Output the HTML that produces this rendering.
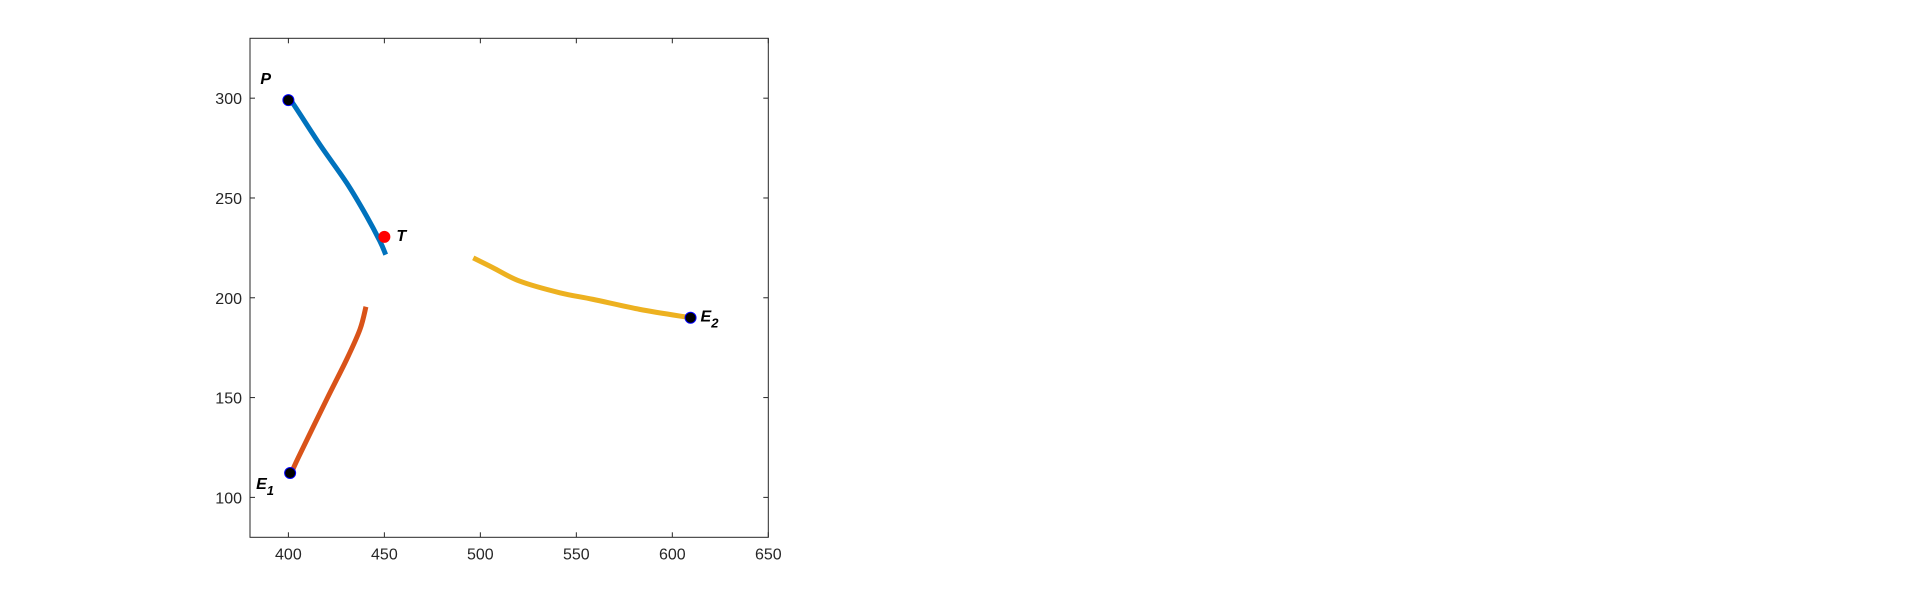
<!DOCTYPE html>
<html><head><meta charset="utf-8"><style>
body{margin:0;background:#fff;width:1920px;height:603px;overflow:hidden}
svg{font-family:"Liberation Sans",Arial,sans-serif}
</style></head><body>
<svg id="chart" width="1920" height="603">
<rect x="250" y="38.3" width="518.3" height="499" fill="#fff" stroke="#262626" stroke-width="1"/>
<g id="ticks"></g>
<g id="series"></g>
<g id="markers"></g>
</svg>
<script>
const xTicks=[400,450,500,550,600,650];
const yTicks=[100,150,200,250,300];
const blueX=[400,401.7,416.5,430.4,440.8,447.7,450.7];
const blueY=[299,298.3,276.6,257.5,240.8,228.3,221.6];
const orangeX=[440.4,437.3,430.4,420,405.2,401];
const orangeY=[195.5,184.2,169.2,149.2,120,111];
const yellowX=[496.3,506.7,520.6,541.4,558.7,583,609.5];
const yellowY=[220,215,208.3,202.5,199.2,194.2,190];
const pointNames=["P","T","E1","E2"];
const pointX=[400,450,400.9,609.5];
const pointY=[299,230.5,112.2,190];
const L=250,T=38.3,W=518.3,H=499,xMin=380,xMax=650,yMin=80,yMax=330;
const sx=v=>L+(v-xMin)/(xMax-xMin)*W;
const sy=v=>T+(yMax-v)/(yMax-yMin)*H;
const NS="http://www.w3.org/2000/svg";
function mk(t,a,p){const e=document.createElementNS(NS,t);for(const k in a)e.setAttribute(k,a[k]);p.appendChild(e);return e;}
const tg=document.getElementById('ticks');
xTicks.forEach(v=>{const x=sx(v);
const a=mk('line',{x1:x,x2:x,y1:T+H,y2:T+H-5,stroke:'#262626'},tg);


const b=mk('line',{x1:x,x2:x,y1:T,y2:T+5,stroke:'#262626'},tg);


const t=mk('text',{x:x,y:T+H+22,'text-anchor':'middle','font-size':'16',fill:'#262626'},tg);t.textContent=v;

});
yTicks.forEach(v=>{const y=sy(v);
const a=mk('line',{x1:L,x2:L+5,y1:y,y2:y,stroke:'#262626'},tg);


const b=mk('line',{x1:L+W,x2:L+W-5,y1:y,y2:y,stroke:'#262626'},tg);


const t=mk('text',{x:L-8,y:y+6,'text-anchor':'end','font-size':'16',fill:'#262626'},tg);t.textContent=v;

});
const sg=document.getElementById('series');
function line(xs,ys,c,n){
const P=xs.map((x,i)=>[sx(x),sy(ys[i])]);
let d='M'+P[0][0]+' '+P[0][1];
for(let i=0;i<P.length-1;i++){
const p0=P[Math.max(0,i-1)],p1=P[i],p2=P[i+1],p3=P[Math.min(P.length-1,i+2)];
const c1=[p1[0]+(p2[0]-p0[0])/6,p1[1]+(p2[1]-p0[1])/6];
const c2=[p2[0]-(p3[0]-p1[0])/6,p2[1]-(p3[1]-p1[1])/6];
d+=' C'+c1[0]+' '+c1[1]+' '+c2[0]+' '+c2[1]+' '+p2[0]+' '+p2[1];}
const p=mk('path',{d:d,fill:'none',stroke:c,'stroke-width':'5','stroke-linejoin':'round'},sg);

}
line(blueX,blueY,'#0072BD','pursuer-path');
line(orangeX,orangeY,'#D95319','evader1-path');
line(yellowX,yellowY,'#EDB120','evader2-path');
const mg=document.getElementById('markers');
const lab=[[-28,-16,''],[12,4,''],[-34,16,'1'],[10,4,'2']];
pointNames.forEach((n,i)=>{const x=sx(pointX[i]),y=sy(pointY[i]);
const isT=n==='T';
const c=mk('circle',{cx:x,cy:y,r:5.5,fill:isT?'#ff0000':'#000',stroke:isT?'#ff0000':'#0000ff','stroke-width':'1'},mg);


const t=mk('text',{x:x+lab[i][0],y:y+lab[i][1],'font-size':'16','font-weight':'bold','font-style':'italic',fill:'#000'},mg);
t.textContent=n[0];
if(lab[i][2]){const s=mk('tspan',{dy:'6','font-size':'13'},t);s.textContent=lab[i][2];}

});
</script>
</body></html>
